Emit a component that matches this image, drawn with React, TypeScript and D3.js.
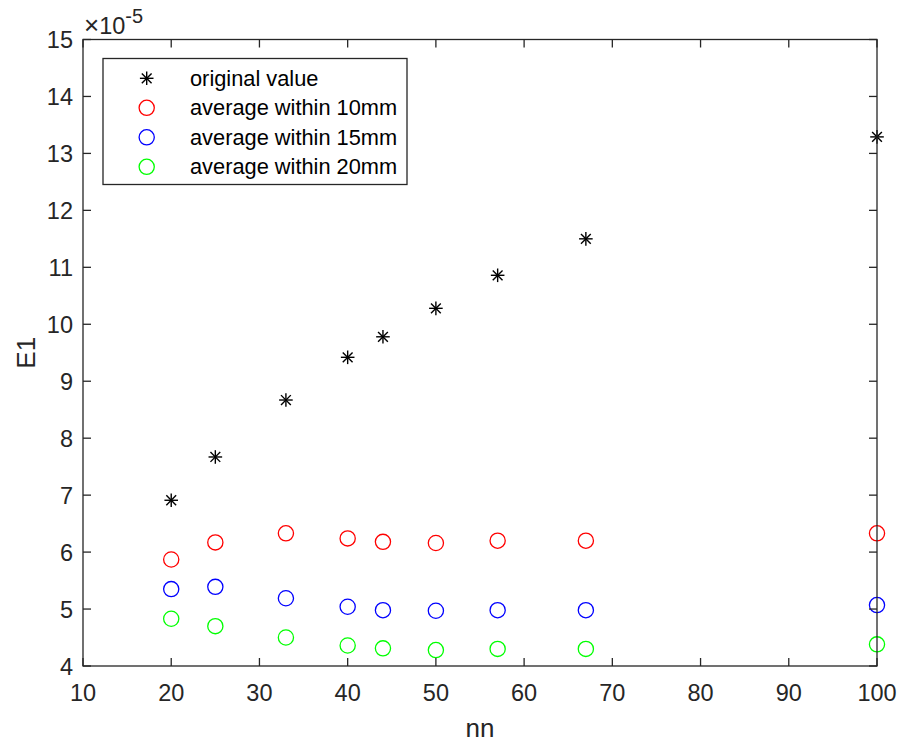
import React from "react";
import * as d3 from "d3";

const nn = [20, 25, 33, 40, 44, 50, 57, 67, 100];
const original = [6.91, 7.67, 8.67, 9.42, 9.78, 10.28, 10.86, 11.50, 13.29];
const avg10 = [5.87, 6.17, 6.33, 6.24, 6.18, 6.16, 6.20, 6.20, 6.33];
const avg15 = [5.35, 5.39, 5.19, 5.04, 4.98, 4.97, 4.98, 4.98, 5.07];
const avg20 = [4.83, 4.70, 4.50, 4.36, 4.31, 4.28, 4.30, 4.30, 4.38];
const xTicks = [10, 20, 30, 40, 50, 60, 70, 80, 90, 100];
const yTicks = [4, 5, 6, 7, 8, 9, 10, 11, 12, 13, 14, 15];
const legendLabels = ["original value", "average within 10mm", "average within 15mm", "average within 20mm"];
const seriesColors = ["#000000", "#ff0000", "#0000ff", "#00ff00"];

const W = 902;
const H = 744;
const L = 83;
const R = 877;
const T = 39.5;
const B = 666;
const FONT = "'Liberation Sans', Arial, sans-serif";
const AX = "#262626";

function Star({ x, y }: { x: number; y: number }) {
  const r = 6.8;
  const d = r * 0.72;
  return (
    <g stroke="#000" strokeWidth={1.4}>
      <line x1={x - r} y1={y} x2={x + r} y2={y} />
      <line x1={x} y1={y - r} x2={x} y2={y + r} />
      <line x1={x - d} y1={y - d} x2={x + d} y2={y + d} />
      <line x1={x - d} y1={y + d} x2={x + d} y2={y - d} />
    </g>
  );
}

export default function App() {
  const x = d3.scaleLinear().domain([10, 100]).range([L, R]);
  const y = d3.scaleLinear().domain([4, 15]).range([B, T]);
  const circles = [avg10, avg15, avg20];
  const tickLen = 8;
  const legX = 103, legY = 58.5, legW = 304, legH = 126;
  const rowY = (i: number) => 78.3 + i * 29.5;
  const TF = 23.5;

  return (
    <svg width={W} height={H} style={{ position: "absolute", left: 0, top: 0, background: "#fff" }} fontFamily={FONT}>
      <rect x={0} y={0} width={W} height={H} fill="#fff" />
      {/* data */}
      {original.map((v, i) => (
        <Star key={"s" + i} x={x(nn[i])} y={y(v)} />
      ))}
      {circles.map((s, k) =>
        s.map((v, i) => (
          <circle key={k + "-" + i} cx={x(nn[i])} cy={y(v)} r={7.6} fill="none" stroke={seriesColors[k + 1]} strokeWidth={1.3} />
        ))
      )}
      {/* axes box */}
      <rect x={L} y={T} width={R - L} height={B - T} fill="none" stroke={AX} strokeWidth={1.3} />
      {xTicks.map((t) => (
        <g key={"xt" + t}>
          <line x1={x(t)} x2={x(t)} y1={B} y2={B - tickLen} stroke={AX} strokeWidth={1.3} />
          <line x1={x(t)} x2={x(t)} y1={T} y2={T + tickLen} stroke={AX} strokeWidth={1.3} />
          <text x={x(t)} y={700.5} textAnchor="middle" fontSize={TF} fill={AX}>{t}</text>
        </g>
      ))}
      {yTicks.map((t) => (
        <g key={"yt" + t}>
          <line x1={L} x2={L + tickLen} y1={y(t)} y2={y(t)} stroke={AX} strokeWidth={1.3} />
          <line x1={R} x2={R - tickLen} y1={y(t)} y2={y(t)} stroke={AX} strokeWidth={1.3} />
          <text x={L - 10} y={y(t) + 8.5} textAnchor="end" fontSize={TF} fill={AX}>{t}</text>
        </g>
      ))}
      {/* exponent */}
      <text x={84} y={33.5} fontSize={TF} fill={AX}>
        <tspan fontSize={26}>×</tspan>10
        <tspan dy={-11} fontSize={20}>-5</tspan>
      </text>
      {/* axis labels */}
      <text x={(L + R) / 2} y={737} textAnchor="middle" fontSize={26} fill={AX}>nn</text>
      <text transform={`translate(35, ${(T + B) / 2}) rotate(-90)`} textAnchor="middle" fontSize={26} fill={AX}>E1</text>
      {/* legend */}
      <rect x={legX} y={legY} width={legW} height={legH} fill="#fff" stroke={AX} strokeWidth={1.3} />
      {legendLabels.map((lab, i) => (
        <g key={"lg" + i}>
          {i === 0 ? (
            <Star x={146.7} y={rowY(i)} />
          ) : (
            <circle cx={146.7} cy={rowY(i)} r={7.6} fill="none" stroke={seriesColors[i]} strokeWidth={1.3} />
          )}
          <text x={190} y={rowY(i) + 7.5} fontSize={21.8} fill="#000">{lab}</text>
        </g>
      ))}
    </svg>
  );
}
